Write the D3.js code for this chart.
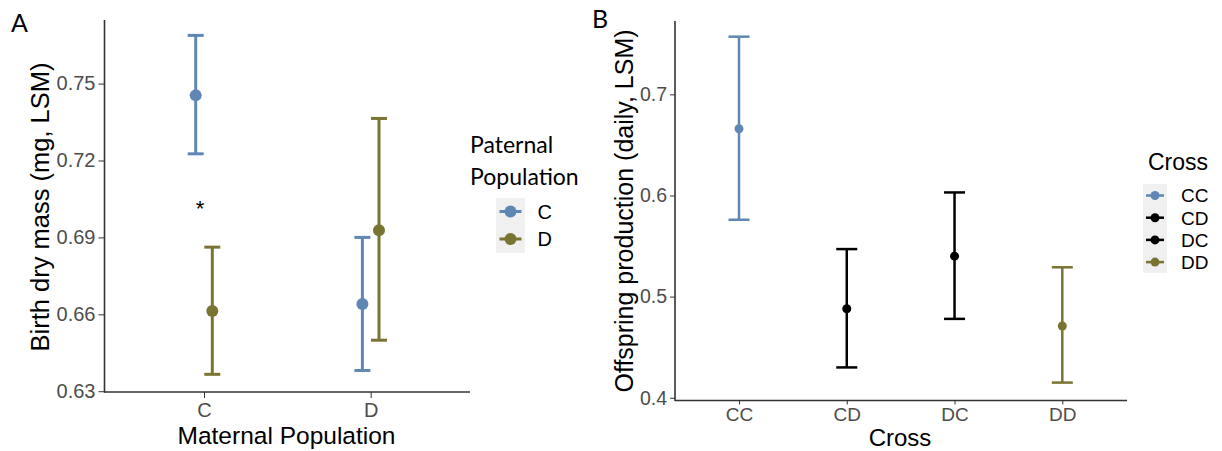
<!DOCTYPE html>
<html>
<head>
  <meta charset="utf-8">
  <script src="https://d3js.org/d3.v7.min.js"></script>
  <style>
  body { margin:0; background:#fff; }
  text { font-family: "Liberation Sans", Arial, sans-serif; }
  .axis path, .axis line { stroke:#333; }
  .axis text { fill:#4D4D4D; }
  .calibri { font-family: Lato, "Open Sans", sans-serif; }
</style>
</head>
<body>
<script>

  // Panel A: birth dry mass by maternal population, split by paternal population
  var maternal = ["C", "D"];
  var paternal = ["C", "D"];
  var massMean  = [[0.7454, 0.6640], [0.6613, 0.6928]];  // per paternal, per maternal
  var massLower = [[0.7226, 0.6381], [0.6366, 0.6499]];
  var massUpper = [[0.7688, 0.6900], [0.6862, 0.7364]];
  var ticksA = [0.63, 0.66, 0.69, 0.72, 0.75];

  // Panel B: offspring production by cross
  var crosses = ["CC", "CD", "DC", "DD"];
  var prodMean  = [0.666, 0.488, 0.540, 0.471];
  var prodLower = [0.576, 0.430, 0.478, 0.415];
  var prodUpper = [0.757, 0.547, 0.603, 0.529];
  var ticksB = [0.4, 0.5, 0.6, 0.7];

  var blue = "#5F87B4", olive = "#7A7432";
  var colA = d3.scaleOrdinal().domain(paternal).range([blue, olive]);
  var colB = d3.scaleOrdinal().domain(crosses).range([blue, "#000", "#000", olive]);

  var svg = d3.select("body").append("svg")
    .attr("width", 1222)
    .attr("height", 451);

  // ---------- Panel A ----------
  var xA = d3.scalePoint().domain(maternal).range([204, 370.7]);
  var yA = d3.scaleLinear().domain([0.6297, 0.7748]).range([392, 20]);
  var dodge = d3.scalePoint().domain(paternal).range([-8.3, 8.3]);

  svg.append("text").attr("class", "calibri")
    .attr("x", 11).attr("y", 32)
    .style("font-size", "25px")
    .text("A");

  svg.append("g")
    .attr("class", "axis")
    .attr("transform", "translate(104.5,0)")
    .call(d3.axisLeft(yA).tickValues(ticksA).tickFormat(d3.format(".2f")).tickSize(6).tickPadding(3))
    .call(g => g.select(".domain").attr("d", "M0," + yA.range()[1] + "V" + (yA.range()[0] + 0.5)))
    .selectAll("text").style("font-size", "20px");

  svg.append("g")
    .attr("class", "axis")
    .attr("transform", "translate(0,392)")
    .call(d3.axisBottom(xA).tickSize(6).tickPadding(5))
    .call(g => g.select(".domain").attr("d", "M104,0H470"))
    .selectAll("text").style("font-size", "20px");

  svg.selectAll(".domain").attr("stroke-width", 1.6);

  svg.append("text")
    .attr("x", 286.5).attr("y", 444)
    .attr("text-anchor", "middle")
    .style("font-size", "24.5px")
    .text("Maternal Population");

  svg.append("text")
    .attr("transform", "translate(49,207) rotate(-90)")
    .attr("text-anchor", "middle")
    .style("font-size", "25.5px")
    .text("Birth dry mass (mg, LSM)");

  var rowsA = [];
  paternal.forEach((p, i) => maternal.forEach((m, j) => {
    rowsA.push({pat: p, mat: m, mean: massMean[i][j], lo: massLower[i][j], hi: massUpper[i][j]});
  }));

  var gA = svg.append("g");
  var barA = gA.selectAll(".barA").data(rowsA).enter().append("g")
    .attr("transform", d => "translate(" + (xA(d.mat) + dodge(d.pat)) + ",0)")
    .attr("stroke", d => colA(d.pat))
    .attr("fill", d => colA(d.pat));
  barA.append("line").attr("y1", d => yA(d.lo)).attr("y2", d => yA(d.hi)).attr("stroke-width", 3);
  barA.append("line").attr("x1", -8).attr("x2", 8).attr("y1", d => yA(d.lo)).attr("y2", d => yA(d.lo)).attr("stroke-width", 3);
  barA.append("line").attr("x1", -8).attr("x2", 8).attr("y1", d => yA(d.hi)).attr("y2", d => yA(d.hi)).attr("stroke-width", 3);
  barA.append("circle").attr("cy", d => yA(d.mean)).attr("r", 6).attr("stroke", "none");

  svg.append("text")
    .attr("x", 200).attr("y", yA(0.703) + 12)
    .attr("text-anchor", "middle")
    .style("font-size", "22px")
    .text("*");

  // legend A
  svg.append("text").attr("class", "calibri")
    .attr("x", 470).attr("y", 153)
    .style("font-size", "23px")
    .text("Paternal");
  svg.append("text").attr("class", "calibri")
    .attr("x", 470).attr("y", 185)
    .style("font-size", "23px")
    .text("Population");
  svg.append("rect").attr("x", 496).attr("y", 198).attr("width", 29).attr("height", 55).attr("fill", "#F0F0F0");
  var legA = svg.selectAll(".legA").data(paternal).enter().append("g")
    .attr("transform", (d, i) => "translate(510.5," + (211.5 + i * 27.5) + ")");
  legA.append("line").attr("x1", -11).attr("x2", 11).attr("stroke", d => colA(d)).attr("stroke-width", 3);
  legA.append("circle").attr("r", 6).attr("fill", d => colA(d));
  legA.append("text").attr("x", 27).attr("dy", "0.36em").style("font-size", "20px").text(d => d);

  // ---------- Panel B ----------
  var xB = d3.scalePoint().domain(crosses).range([739, 1062.3]);
  var yB = d3.scaleLinear().domain([0.3973, 0.7725]).range([400.5, 21]);

  svg.append("text").attr("class", "calibri")
    .attr("x", 592).attr("y", 28)
    .style("font-size", "25px")
    .text("B");

  svg.append("g")
    .attr("class", "axis axisB")
    .attr("transform", "translate(675,0)")
    .call(d3.axisLeft(yB).tickValues(ticksB).tickFormat(d3.format(".1f")).tickSize(5).tickPadding(3))
    .call(g => g.select(".domain").attr("d", "M0,21V401"))
    .selectAll("text").style("font-size", "19.5px");

  svg.append("g")
    .attr("class", "axis axisB")
    .attr("transform", "translate(0,400.5)")
    .call(d3.axisBottom(xB).tickSize(4).tickPadding(3.5))
    .call(g => g.select(".domain").attr("d", "M675,0H1127"))
    .selectAll("text").style("font-size", "19px");

  svg.selectAll(".axisB path, .axisB line").attr("stroke", "#555");
  svg.selectAll(".axisB .domain").attr("stroke-width", 1.6);

  svg.append("text")
    .attr("x", 900).attr("y", 446)
    .attr("text-anchor", "middle")
    .style("font-size", "24px")
    .text("Cross");

  svg.append("text")
    .attr("transform", "translate(633,211) rotate(-90)")
    .attr("text-anchor", "middle")
    .style("font-size", "25px")
    .text("Offspring production (daily, LSM)");

  var barB = svg.selectAll(".barB").data(crosses).enter().append("g")
    .attr("transform", d => "translate(" + xB(d) + ",0)")
    .attr("stroke", d => colB(d))
    .attr("fill", d => colB(d));
  barB.append("line").attr("y1", (d, i) => yB(prodLower[i])).attr("y2", (d, i) => yB(prodUpper[i])).attr("stroke-width", 2.5);
  barB.append("line").attr("x1", -10.5).attr("x2", 10.5).attr("y1", (d, i) => yB(prodLower[i])).attr("y2", (d, i) => yB(prodLower[i])).attr("stroke-width", 2.5);
  barB.append("line").attr("x1", -10.5).attr("x2", 10.5).attr("y1", (d, i) => yB(prodUpper[i])).attr("y2", (d, i) => yB(prodUpper[i])).attr("stroke-width", 2.5);
  barB.append("circle").attr("cy", (d, i) => yB(prodMean[i])).attr("r", 4.5).attr("stroke", "none");

  // legend B
  svg.append("text")
    .attr("x", 1148).attr("y", 170)
    .style("font-size", "23px")
    .text("Cross");
  svg.append("rect").attr("x", 1143).attr("y", 184).attr("width", 24).attr("height", 89).attr("fill", "#F0F0F0");
  var legB = svg.selectAll(".legB").data(crosses).enter().append("g")
    .attr("transform", (d, i) => "translate(1155," + (195.5 + i * 22.2) + ")");
  legB.append("line").attr("x1", -9).attr("x2", 9).attr("stroke", d => colB(d)).attr("stroke-width", 2.5);
  legB.append("circle").attr("r", 4.5).attr("fill", d => colB(d));
  legB.append("text").attr("x", 26).attr("dy", "0.36em").style("font-size", "19px").text(d => d);

</script>
</body>
</html>
